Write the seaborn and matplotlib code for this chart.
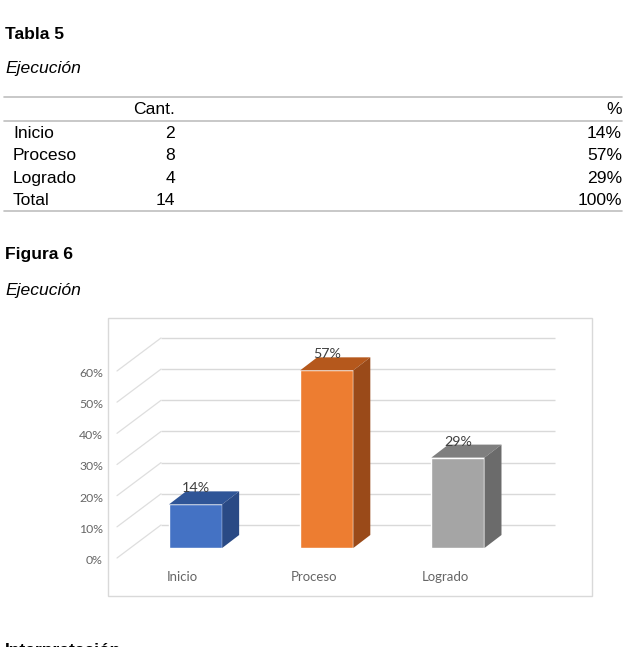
import matplotlib
matplotlib.use('Agg')
import matplotlib.pyplot as plt
import seaborn as sns
from matplotlib.lines import Line2D
from matplotlib.patches import Polygon, Rectangle
from matplotlib.transforms import IdentityTransform, offset_copy

# --- datos ---
categorias = ['Inicio', 'Proceso', 'Logrado']
cantidades = [2, 8, 4]
porcentajes = [14, 57, 29]
etiquetas_pct = ['14%', '57%', '29%']
total_cant = 14
total_pct = '100%'
ticks_y = [0, 10, 20, 30, 40, 50, 60]

color_frente = ['#4472C4', '#ED7D31', '#A5A5A5']
color_tapa = ['#2F5597', '#B5581C', '#7F7F7F']
color_lado = ['#2A4A85', '#9A4A19', '#6B6B6B']

W, H = 623, 647
DOC_FONT = ['Liberation Sans', 'DejaVu Sans']
CHART_FONT = ['Lato', 'DejaVu Sans']


def fx(px):
    return px / W


def fy(py):
    return 1 - py / H


sns.set_theme(style='white')
plt.rcParams['font.family'] = DOC_FONT
plt.rcParams['text.color'] = 'black'

fig = plt.figure(figsize=(W / 100, H / 100), dpi=100)
fig.patch.set_facecolor('white')

# --- texto del documento ---
fs = 12.6
fig.text(fx(5), fy(39), 'Tabla 5', fontsize=fs, fontweight='bold', va='baseline')
fig.text(fx(5), fy(73), 'Ejecución', fontsize=fs, style='italic', va='baseline')

for yy in [97, 120.5, 210.5]:
    fig.add_artist(Line2D([fx(4), fx(622)], [fy(yy), fy(yy)], color='#BFBFBF', lw=1.2))

fig.text(fx(175), fy(114.5), 'Cant.', fontsize=fs, ha='right', va='baseline')
fig.text(fx(622), fy(114.5), '%', fontsize=fs, ha='right', va='baseline')
filas = list(zip(categorias + ['Total'], cantidades + [total_cant], etiquetas_pct + [total_pct]))
for i, (nom, cant, pct) in enumerate(filas):
    yb = 137.7 + i * 22.5
    fig.text(fx(13), fy(yb), nom, fontsize=fs, va='baseline')
    fig.text(fx(175), fy(yb), str(cant), fontsize=fs, ha='right', va='baseline')
    fig.text(fx(622), fy(yb), pct, fontsize=fs, ha='right', va='baseline')

fig.text(fx(5), fy(259), 'Figura 6', fontsize=fs, fontweight='bold', va='baseline')
fig.text(fx(5), fy(295), 'Ejecución', fontsize=fs, style='italic', va='baseline')
fig.text(fx(5), fy(655), 'Interpretación', fontsize=fs, fontweight='bold', va='baseline')

# marco del gráfico
fig.add_artist(Rectangle((fx(108), fy(595.5)), fx(592) - fx(108), fy(318) - fy(595.5),
                         fill=False, edgecolor='#D9D9D9', lw=1))

# --- gráfico 3D simulado ---
ux = 131.17   # px por categoría
uy = 3.117    # px por punto porcentual
x0_px, y0_px = 130 - 0.5 * ux, 548 + 1 * uy
ax = fig.add_axes([fx(x0_px), fy(y0_px), 4 * ux / W, 71 * uy / H])
sns.barplot(x=categorias, y=porcentajes, hue=categorias, palette=color_frente,
            width=0.405, saturation=1, legend=False, ax=ax, zorder=3)
ax.set_xlim(-1.0, 3.0)
ax.set_ylim(-1, 70)
ax.axis('off')

# pared de fondo
fondo = offset_copy(ax.transData, fig=fig, x=31, y=23, units='dots')
ax.hlines(ticks_y, -0.5, 2.5, transform=fondo, color='#D9D9D9', lw=1, zorder=0, clip_on=False)

for v in ticks_y:
    X, Y = ax.transData.transform((-0.5, v))
    fig.add_artist(Line2D([X - 13, X + 31], [Y - 10, Y + 23], transform=IdentityTransform(),
                          color='#DEDEDE', lw=0.9, zorder=0.5))
    fig.text(X - 27, Y - 12.5, f'{v}%', transform=IdentityTransform(), ha='right', va='center',
             fontsize=8.8, color='#666666', family=CHART_FONT)

# caras superior y lateral
dx, dy = 17, 13
for i, p in enumerate(ax.patches):
    bx0 = p.get_x()
    bx1 = bx0 + p.get_width()
    h = p.get_height()
    X0, Y0 = ax.transData.transform((bx0, 0))
    X1, Y1 = ax.transData.transform((bx1, h))
    tapa = [(X0, Y1), (X1, Y1), (X1 + dx, Y1 + dy), (X0 + dx, Y1 + dy)]
    lado = [(X1, Y0), (X1, Y1), (X1 + dx, Y1 + dy), (X1 + dx, Y0 + dy)]
    fig.add_artist(Polygon(tapa, closed=True, transform=IdentityTransform(),
                           facecolor=color_tapa[i], edgecolor='none', zorder=2))
    fig.add_artist(Polygon(lado, closed=True, transform=IdentityTransform(),
                           facecolor=color_lado[i], edgecolor='none', zorder=2))
    Xc = (X0 + X1) / 2
    fig.text(Xc, Y1 + 16, etiquetas_pct[i], transform=IdentityTransform(), ha='center',
             va='center', fontsize=10.3, color='#404040', family=CHART_FONT, zorder=3)
    fig.text(Xc - 13, Y0 - 29, categorias[i], transform=IdentityTransform(), ha='center',
             va='center', fontsize=9.5, color='#666666', family=CHART_FONT, zorder=3)

fig.savefig('out.png', dpi=100)
